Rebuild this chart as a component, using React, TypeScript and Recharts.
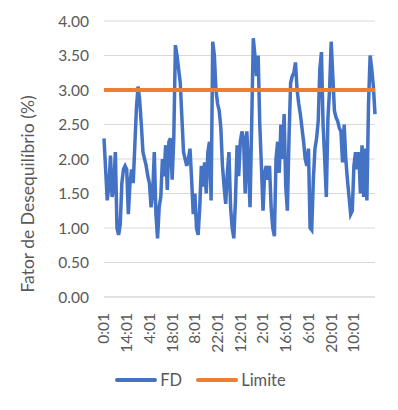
import { LineChart, Line, XAxis, YAxis, CartesianGrid, Legend } from 'recharts';

// hourly readings over one week, first one at 0:01
const fd = [
  2.3, 1.85, 1.4, 1.6, 2.05, 1.45, 1.6, 2.1, 1.0, 0.9,
  1.05, 1.65, 1.85, 1.9, 1.85, 1.2, 1.65, 1.85, 1.65, 2.2,
  2.75, 3.05, 2.85, 2.5, 2.1, 2.0, 1.9, 1.75, 1.65, 1.3,
  1.5, 2.1, 1.2, 0.85, 1.3, 1.45, 2.0, 1.75, 2.2, 1.55,
  2.25, 2.3, 1.7, 2.3, 3.65, 3.5, 3.3, 3.1, 2.6, 2.1,
  2.0, 1.9, 2.0, 2.15, 1.7, 1.2, 1.5, 1.0, 0.9, 1.3,
  1.9, 1.6, 1.95, 1.5, 2.1, 2.25, 1.4, 3.7, 3.5, 3.0,
  2.8, 2.7, 2.45, 1.9, 1.6, 1.35, 1.8, 2.1, 1.3, 1.0,
  0.85, 1.4, 2.2, 1.75, 2.25, 2.4, 2.3, 1.5, 2.4, 1.9,
  1.3, 2.5, 3.75, 3.5, 3.2, 3.5, 2.5, 1.9, 1.25, 1.8,
  1.9, 1.7, 1.9, 1.3, 1.0, 0.88, 2.0, 2.25, 1.8, 2.5,
  2.0, 2.65, 1.6, 1.25, 2.3, 3.1, 3.2, 3.25, 3.4, 3.0,
  2.8, 2.65, 2.45, 2.25, 2.0, 1.9, 2.15, 1.0, 0.97, 1.7,
  2.15, 2.3, 2.55, 3.3, 3.55, 2.5, 2.0, 1.45, 2.6, 3.0,
  3.7, 3.2, 2.7, 2.6, 2.55, 2.45, 2.4, 1.95, 2.5, 2.0,
  1.7, 1.45, 1.2, 1.25, 1.9, 2.1, 1.85, 2.1, 1.5, 2.2,
  1.45, 2.15, 1.4, 2.8, 3.5, 3.3, 3.05, 2.65,
];

const LIMITE = 3.0;
const yTicks = [0, 0.5, 1, 1.5, 2, 2.5, 3, 3.5, 4];
const hours = fd.map((_, i) => `${i % 24}:01`);

const data = hours.map((h, i) => ({ hora: h, FD: fd[i], Limite: LIMITE }));

const FONT = 'Lato, "Open Sans", sans-serif';
const TEXT = '#595959';

const XTick = ({ x, y, payload }: any) => (
  <text
    x={x}
    y={y}
    dx={-8}
    dy="0.35em"
    transform={`rotate(-90, ${x}, ${y})`}
    textAnchor="end"
    fill={TEXT}
    fontSize={15.5}
    fontFamily={FONT}
  >
    {payload.value}
  </text>
);

const legendItems = [
  { name: 'FD', color: '#4472C4' },
  { name: 'Limite', color: '#ED7D31' },
];

const LegendContent = () => (
  <div style={{ display: 'flex', justifyContent: 'center', paddingLeft: 32, fontFamily: FONT, fontSize: 16.5, color: TEXT }}>
    {legendItems.map((it) => (
      <div key={it.name} style={{ display: 'flex', alignItems: 'center', marginRight: 14 }}>
        <div style={{ width: 42, height: 3.5, background: it.color, borderRadius: 2, marginRight: 3 }} />
        <span>{it.name}</span>
      </div>
    ))}
  </div>
);

export default function App() {
  return (
    <LineChart width={390} height={402} data={data} margin={{ top: 13, right: 23, left: 0, bottom: 16 }}>
      <CartesianGrid vertical={false} stroke="#d9d9d9" />
      <XAxis
        dataKey="hora"
        interval={13}
        tick={<XTick />}
        tickLine={false}
        axisLine={{ stroke: '#d9d9d9' }}
        height={73}
      />
      <YAxis
        domain={[0, 4]}
        ticks={yTicks}
        tickFormatter={(v: number) => v.toFixed(2)}
        tick={{ fill: TEXT, fontSize: 15.5, fontFamily: FONT }}
        tickLine={false}
        axisLine={false}
        width={96}
        tickMargin={9}
        label={{
          content: () => (
            <text
              x={22}
              y={186}
              transform="rotate(-90, 22, 186)"
              textAnchor="middle"
              dominantBaseline="middle"
              fill={TEXT}
              fontSize={17.5}
              fontFamily={FONT}
            >
              Fator de Desequilíbrio (%)
            </text>
          ),
        }}
      />
      <Legend verticalAlign="bottom" height={24} content={<LegendContent />} />
      <Line type="linear" dataKey="FD" stroke="#4472C4" strokeWidth={3.5} dot={false} isAnimationActive={false} />
      <Line type="linear" dataKey="Limite" stroke="#ED7D31" strokeWidth={4} dot={false} isAnimationActive={false} />
    </LineChart>
  );
}
